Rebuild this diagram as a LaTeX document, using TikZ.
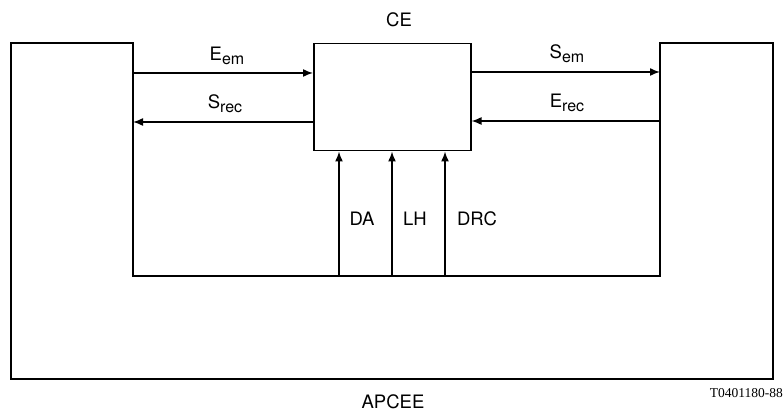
\documentclass[tikz,border=0pt]{standalone}
\usepackage{fontspec}
\setmainfont{TeX Gyre Heros}
\newfontfamily\tagfont{Liberation Serif}
\usetikzlibrary{arrows.meta}
\newcommand{\lsub}[1]{\raisebox{-0.45ex}{\fontsize{16}{16}\selectfont #1}}
\begin{document}
\begin{tikzpicture}[x=1pt,y=-1pt,
  line/.style={line width=1.5pt},
  arr/.style={line width=1.5pt,-{Latex[length=10pt,width=8pt]}},
  lab/.style={font=\fontsize{18.5}{21}\selectfont,inner sep=0pt}]
\useasboundingbox (0,0) rectangle (784,414);
% outer U-shaped block
\draw[line] (11,43) coordinate (ul) -- (133,43) -- (133,276) coordinate (ibl)
  -- (660,276) coordinate (ibr) -- (660,43) -- (773,43) -- (773,379) -- (11,379) -- cycle;
% CE box
\node[draw,line width=1.5pt,minimum width=157pt,minimum height=107pt,inner sep=0pt,anchor=north west] (ce) at (313,43) {};
\node[lab] (celab) at (399,20) {CE};
% coordinates on left/right blocks
\coordinate (l1) at (133,73);
\coordinate (l2) at (133,122);
\coordinate (r1) at (660,72);
\coordinate (r2) at (660,121);
\draw[arr] (l1) -- (l1 -| ce.west);
\draw[arr] (ce.west |- l2) -- (l2);
\draw[arr] (ce.east |- r1) -- (r1);
\draw[arr] (r2) -- (ce.east |- r2);
\node[lab] (eem) at (227,56) {E\lsub{em}};
\node[lab] (srec) at (225,104) {S\lsub{rec}};
\node[lab] (sem) at (567,54) {S\lsub{em}};
\node[lab] (erec) at (567,103) {E\lsub{rec}};
% vertical arrows
\coordinate (b1) at (339,276);
\coordinate (b2) at (392,276);
\coordinate (b3) at (445,276);
\draw[arr] (b1) -- (b1 |- ce.south);
\draw[arr] (b2) -- (b2 |- ce.south);
\draw[arr] (b3) -- (b3 |- ce.south);
\node[lab] (da) at (362,219) {DA};
\node[lab] (lh) at (415,219) {LH};
\node[lab] (drc) at (477,219) {DRC};
\node[lab] (apcee) at (393,402) {APCEE};
\node[font=\tagfont\fontsize{13.5}{14}\selectfont,inner sep=0pt,anchor=east] (tag) at (783,393) {T0401180-88};
\end{tikzpicture}
\end{document}
